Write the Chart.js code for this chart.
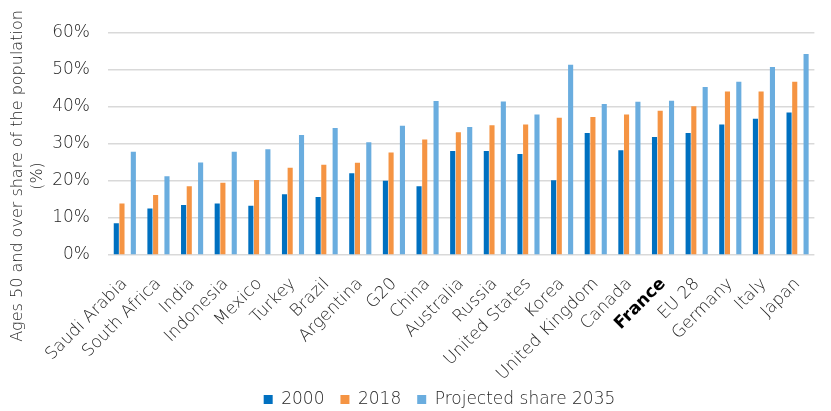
<!DOCTYPE html>
<html>
<head>
<meta charset="utf-8">
<script src="https://cdn.jsdelivr.net/npm/chart.js@4/dist/chart.umd.min.js"></script>
<style>
    html, body { margin: 0; padding: 0; background: #fff; }
    #wrap { width: 831px; height: 411px; position: relative; }
</style>
</head>
<body>
<div id="wrap"><canvas id="chart"></canvas></div>
<script>
const paises = ['Saudi Arabia', 'South Africa', 'India', 'Indonesia', 'Mexico', 'Turkey', 'Brazil',
    'Argentina', 'G20', 'China', 'Australia', 'Russia', 'United States', 'Korea',
    'United Kingdom', 'Canada', 'France', 'EU 28', 'Germany', 'Italy', 'Japan'];
const valores2000 = [8.6, 12.6, 13.5, 13.9, 13.3, 16.4, 15.7, 22.1, 20.1, 18.6, 28.1, 28.1, 27.3, 20.2,
    33.0, 28.3, 31.9, 33.0, 35.3, 36.8, 38.5];
const valores2018 = [13.9, 16.2, 18.6, 19.5, 20.3, 23.6, 24.4, 24.9, 27.7, 31.2, 33.2, 35.1, 35.3, 37.1,
    37.3, 38.0, 39.0, 40.2, 44.2, 44.2, 46.8];
const valores2035 = [27.9, 21.3, 25.0, 27.9, 28.6, 32.4, 34.3, 30.5, 34.9, 41.6, 34.6, 41.5, 38.0, 51.4,
    40.8, 41.4, 41.7, 45.4, 46.8, 50.8, 54.3];
const ticksY = [0, 10, 20, 30, 40, 50, 60];
const tituloY = ['Ages 50 and over share of the population', '(%)'];
const destacado = 'France';

const FUENTE = '"DejaVu Sans", sans-serif';
const GRIS = '#262626';

// titulo del eje Y dibujado a mano (centrado mas abajo que el area del grafico)
const tituloEjeY = {
    id: 'tituloEjeY',
    afterDraw(chart) {
        const ctx = chart.ctx;
        ctx.save();
        ctx.fillStyle = GRIS;
        ctx.font = '200 16px ' + FUENTE;
        ctx.textAlign = 'center';
        ctx.textBaseline = 'middle';
        ctx.translate(0, 176);
        ctx.rotate(-Math.PI / 2);
        ctx.fillText(tituloY[0], 0, 18);
        ctx.fillText(tituloY[1], 0, 38);
        ctx.restore();
    }
};

// leyenda: altura fija, subida y un poco desplazada a la derecha
const ajusteLeyenda = {
    id: 'ajusteLeyenda',
    beforeInit(chart) {
        const fitOriginal = chart.legend.fit;
        chart.legend.fit = function () {
            fitOriginal.call(this);
            this.height = 32;
        };
    },
    afterLayout(chart) {
        const lg = chart.legend;
        lg.left += 24;
        lg.right += 24;
        lg.top -= 4;
    }
};

new Chart(document.getElementById('chart'), {
    type: 'bar',
    data: {
        labels: paises,
        datasets: [
            { label: '2000', data: valores2000, backgroundColor: '#0070C0' },
            { label: '2018', data: valores2018, backgroundColor: '#F59443' },
            { label: '', data: paises.map(() => null), backgroundColor: 'rgba(0,0,0,0)' },
            { label: 'Projected share 2035', data: valores2035, backgroundColor: '#6AADDF' }
        ]
    },
    options: {
        responsive: true,
        maintainAspectRatio: false,
        animation: false,
        layout: { padding: { top: 33, right: 0, bottom: 0, left: 0 } },
        datasets: { bar: { categoryPercentage: 0.675, barPercentage: 0.9, borderWidth: 0 } },
        scales: {
            x: {
                grid: { display: false, drawTicks: false },
                border: { display: false },
                ticks: {
                    autoSkip: false,
                    maxRotation: 45,
                    minRotation: 45,
                    padding: 19,
                    color: ctx => paises[ctx.index] === destacado ? '#000' : GRIS,
                    font: ctx => ({
                        family: FUENTE,
                        size: 17,
                        weight: paises[ctx.index] === destacado ? 'bold' : 200
                    })
                },
                afterFit(scale) { scale.height = 124; }
            },
            y: {
                min: 0,
                max: 60,
                afterBuildTicks(scale) { scale.ticks = ticksY.map(v => ({ value: v })); },
                grid: { color: '#D9D9D9', lineWidth: 1.5, drawTicks: false },
                border: { display: false },
                ticks: {
                    padding: 18,
                    color: GRIS,
                    font: { family: FUENTE, size: 17, weight: 200 },
                    callback: v => v + '%'
                },
                afterFit(scale) { scale.width = 108; }
            }
        },
        plugins: {
            legend: {
                position: 'bottom',
                labels: {
                    filter: item => item.text !== '',
                    boxWidth: 9,
                    boxHeight: 9,
                    padding: 16,
                    color: GRIS,
                    font: { family: FUENTE, size: 17, weight: 200 }
                }
            },
            tooltip: { enabled: false }
        }
    },
    plugins: [tituloEjeY, ajusteLeyenda]
});
</script>
</body>
</html>
